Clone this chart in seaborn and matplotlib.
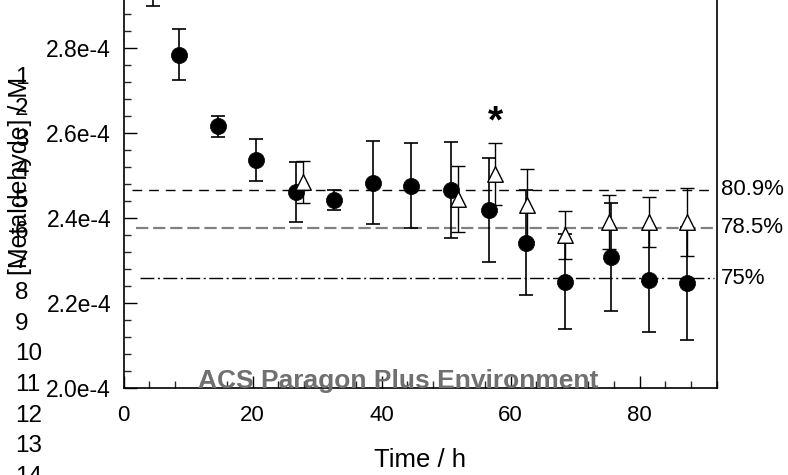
import numpy as np
import pandas as pd
import matplotlib
matplotlib.use("Agg")
import matplotlib.pyplot as plt
import seaborn as sns
from matplotlib.ticker import MultipleLocator, FixedLocator

# ---------------- data (concentrations in units of 1e-4 M) ----------------
SCALE = 1e-4
circle_time = [4.6, 8.6, 14.6, 20.5, 26.7, 32.7, 38.6, 44.6, 50.7, 56.6, 62.4, 68.5, 75.6, 81.5, 87.4]
circle_conc = [2.934, 2.784, 2.616, 2.536, 2.461, 2.442, 2.483, 2.476, 2.466, 2.419, 2.342, 2.250, 2.309, 2.254, 2.246]
circle_err = [0.035, 0.060, 0.025, 0.049, 0.071, 0.024, 0.098, 0.100, 0.114, 0.122, 0.123, 0.112, 0.127, 0.123, 0.132]

tri_time = [27.8, 51.8, 57.6, 62.5, 68.5, 75.3, 81.5, 87.4]
tri_conc = [2.485, 2.445, 2.503, 2.431, 2.360, 2.391, 2.391, 2.391]
tri_err = [0.049, 0.077, 0.073, 0.084, 0.056, 0.063, 0.059, 0.080]

ref_labels = ["80.9%", "78.5%", "75%"]
ref_levels = [2.466, 2.377, 2.258]

asterisk_time = 57.6
asterisk_conc = 2.625

xticks = [0, 20, 40, 60, 80]
ytick_values = [2.0, 2.2, 2.4, 2.6, 2.8, 3.0]
ytick_labels = ["2.0e-4", "2.2e-4", "2.4e-4", "2.6e-4", "2.8e-4", "3.0e-4"]
line_numbers = list(range(1, 15))

circles = pd.DataFrame({"time": circle_time,
                        "conc": np.array(circle_conc) * SCALE,
                        "err": np.array(circle_err) * SCALE})
triangles = pd.DataFrame({"time": tri_time,
                          "conc": np.array(tri_conc) * SCALE,
                          "err": np.array(tri_err) * SCALE})

# ---------------- style ----------------
sns.set_theme(style="ticks")
plt.rcParams["font.family"] = ["Liberation Sans", "DejaVu Sans"]

W, H = 788, 475
fig = plt.figure(figsize=(W / 100, H / 100), dpi=100)
left_px, right_px, bottom_px = 123.5, 717, 388
ax_h_px = 425
ax = fig.add_axes([left_px / W, 1 - bottom_px / H, (right_px - left_px) / W, ax_h_px / H])

# error bars
ax.errorbar(circles["time"], circles["conc"], yerr=circles["err"], fmt="none",
            ecolor="black", elinewidth=1.2, capsize=5, capthick=1.2, zorder=2)
ax.errorbar(triangles["time"], triangles["conc"], yerr=triangles["err"], fmt="none",
            ecolor="black", elinewidth=1.0, capsize=5, capthick=1.0, zorder=2)

# markers
sns.scatterplot(data=circles, x="time", y="conc", marker="o", color="black",
                s=135, edgecolor="black", linewidth=0.5, ax=ax, zorder=3, legend=False)
sns.scatterplot(data=triangles, x="time", y="conc", marker="^", facecolor="white",
                s=125, edgecolor="black", linewidth=1.0, ax=ax, zorder=4, legend=False)

# reference lines
styles = [dict(color="black", lw=1.0, dashes=(7, 5)),
          dict(color="#808080", lw=1.6, dashes=(5.5, 2.2)),
          dict(color="black", lw=1.0, dashes=(10, 2.5, 1.5, 2.5))]
starts = [1.3, 2.0, 2.6]
for lab, lev, st, x0 in zip(ref_labels, ref_levels, styles, starts):
    ax.plot([x0, 91.5], [lev * SCALE, lev * SCALE], zorder=1, **st)
    ax.text(92.6, lev * SCALE, lab, ha="left", va="center", fontsize=16,
            color="black", clip_on=False)

ax.text(asterisk_time, asterisk_conc * SCALE, "*", ha="center", va="center",
        fontsize=28, fontweight="bold", color="black")

# axes
ax.set_xlim(0, 92)
ax.set_ylim(2.0 * SCALE, 3.0 * SCALE)
ax.xaxis.set_major_locator(FixedLocator(xticks))
ax.xaxis.set_minor_locator(MultipleLocator(4))
ax.set_yticks(np.array(ytick_values) * SCALE)
ax.set_yticklabels(ytick_labels)
ax.yaxis.set_minor_locator(MultipleLocator(0.04 * SCALE))
ax.tick_params(which="major", direction="in", length=9, width=1.0,
               colors="black", right=False, top=False)
ax.tick_params(axis="x", which="major", pad=12, labelsize=16)
ax.tick_params(axis="y", which="major", pad=9, labelsize=16.5)
ax.tick_params(which="minor", direction="in", length=5, width=1.0, right=False, top=False)
for sp in ["left", "bottom", "right", "top"]:
    ax.spines[sp].set_visible(True)
    ax.spines[sp].set_color("black")
    ax.spines[sp].set_linewidth(1.2)

ax.set_xlabel("Time / h", fontsize=18.5, color="black")
ax.set_ylabel("[Metaldehyde] / M", fontsize=18, color="black")
ax.xaxis.set_label_coords(0.5, -(448 - bottom_px) / ax_h_px)
ax.yaxis.set_label_coords((20 - left_px) / (right_px - left_px), 0.5)
ax.yaxis.label.set_va("center")
ax.xaxis.label.set_va("top")

# manuscript line numbers and watermark
for n in line_numbers:
    ypx = 293 + (n - 8) * 30.7
    fig.text(15 / W, 1 - ypx / H, str(n), ha="left", va="center", fontsize=17.5, color="black")

fig.text(398 / W, 1 - 381 / H, "ACS Paragon Plus Environment", ha="center", va="center",
         fontsize=19, fontweight="bold", color="#707070")

fig.savefig("out.png", dpi=100)
